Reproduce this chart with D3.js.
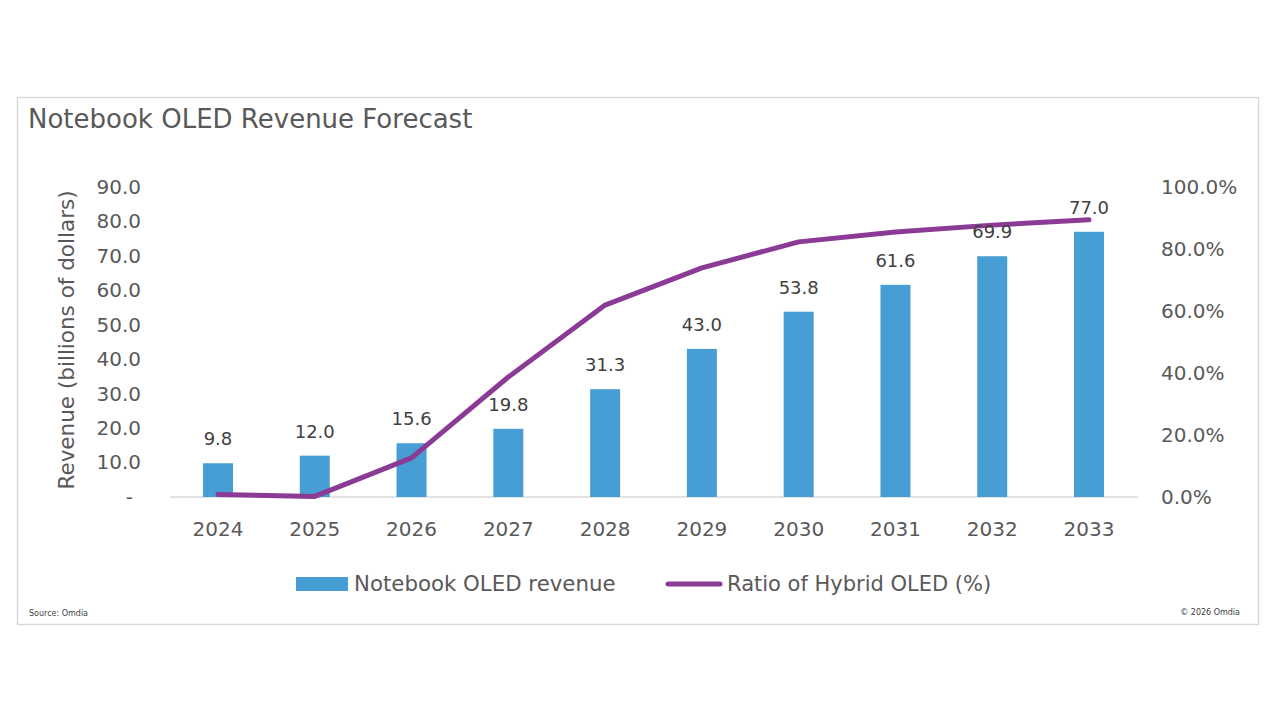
<!DOCTYPE html>
<html><head><meta charset="utf-8">
<script src="https://cdn.jsdelivr.net/npm/d3@7"></script>
<style>body{margin:0;background:#fff;} svg{display:block;font-family:"DejaVu Sans",sans-serif;}</style>
</head><body>
<svg id="c" width="1280" height="720"></svg>
<script>
const years = ["2024","2025","2026","2027","2028","2029","2030","2031","2032","2033"];
const revenue = [9.8,12.0,15.6,19.8,31.3,43.0,53.8,61.6,69.9,77.0];
const hybridRatio = [0.8,0.2,12.6,38.7,61.9,73.9,82.3,85.5,87.7,89.4];
const leftTicks = [0,10,20,30,40,50,60,70,80,90];
const rightTicks = [0,20,40,60,80,100];

const FONT = "DejaVu Sans, sans-serif";
const svg = d3.select("#c");
const txt = "#595959";
svg.append("rect").attr("x",17.5).attr("y",97.5).attr("width",1241).attr("height",527)
  .attr("fill","#fff").attr("stroke","#d9d9d9").attr("stroke-width",1.5);

svg.append("text").attr("x",28).attr("y",128).attr("font-size",26).attr("fill",txt)
  .text("Notebook OLED Revenue Forecast");

const x = d3.scaleBand().domain(years).range([169.6,1137.4]).paddingInner(0.69).paddingOuter(0.345);
const yL = d3.scaleLinear().domain([0,90]).range([497,187]);
const yR = d3.scaleLinear().domain([0,100]).range([497,187]);

svg.append("line").attr("x1",170).attr("x2",1138).attr("y1",yL(0)).attr("y2",yL(0))
  .attr("stroke","#d9d9d9").attr("stroke-width",1.5);

svg.selectAll("rect.bar").data(revenue).join("rect").attr("class","bar")
  .attr("x",(d,i)=>x(years[i])).attr("width",x.bandwidth())
  .attr("y",d=>yL(d)).attr("height",d=>yL(0)-yL(d)).attr("fill","#469ed4");

const line = d3.line().x((d,i)=>x(years[i])+x.bandwidth()/2).y(d=>yR(d));
svg.append("path").datum(hybridRatio).attr("d",line).attr("fill","none")
  .attr("stroke","#8b3a96").attr("stroke-width",5).attr("stroke-linecap","round").attr("stroke-linejoin","round");

svg.selectAll("text.lbl").data(revenue).join("text").attr("class","lbl")
  .attr("x",(d,i)=>x(years[i])+x.bandwidth()/2).attr("y",d=>yL(d)-18)
  .attr("text-anchor","middle").attr("font-size",18).attr("fill","#404040")
  .text(d=>d.toFixed(1));

const la = svg.append("g").attr("transform","translate(141,0)")
  .call(d3.axisLeft(yL).tickValues(leftTicks).tickSize(0).tickPadding(0).tickFormat(d=>d===0?"-":d.toFixed(1)));
la.select(".domain").remove();
la.selectAll("text").attr("font-size",20).attr("fill",txt).attr("font-family",FONT)
  .attr("dx",d=>d===0?-8:0);

const ra = svg.append("g").attr("transform","translate(1161,0)")
  .call(d3.axisRight(yR).tickValues(rightTicks).tickSize(0).tickPadding(0).tickFormat(d=>d.toFixed(1)+"%"));
ra.select(".domain").remove();
ra.selectAll("text").attr("font-size",20).attr("fill",txt).attr("font-family",FONT);

const xa = svg.append("g").attr("transform","translate(0,"+yL(0)+")")
  .call(d3.axisBottom(x).tickSize(0).tickPadding(25));
xa.select(".domain").remove();
xa.selectAll("text").attr("font-size",20).attr("fill",txt).attr("font-family",FONT);

svg.append("text").attr("transform","translate(74,340) rotate(-90)").attr("text-anchor","middle")
  .attr("font-size",21.5).attr("fill",txt).text("Revenue (billions of dollars)");

svg.append("rect").attr("x",296).attr("y",577).attr("width",52).attr("height",14).attr("fill","#469ed4");
svg.append("text").attr("x",354).attr("y",591).attr("font-size",21.3).attr("fill",txt).text("Notebook OLED revenue");
svg.append("line").attr("x1",668).attr("x2",720).attr("y1",584).attr("y2",584)
  .attr("stroke","#8b3a96").attr("stroke-width",5).attr("stroke-linecap","round");
svg.append("text").attr("x",727).attr("y",591).attr("font-size",21).attr("fill",txt).text("Ratio of Hybrid OLED (%)");

svg.append("text").attr("x",29).attr("y",616).attr("font-size",8).attr("fill","#404040").text("Source: Omdia");
svg.append("text").attr("x",1240).attr("y",615).attr("font-size",8).attr("fill","#404040").attr("text-anchor","end").text("© 2026 Omdia");
</script>
</body></html>
